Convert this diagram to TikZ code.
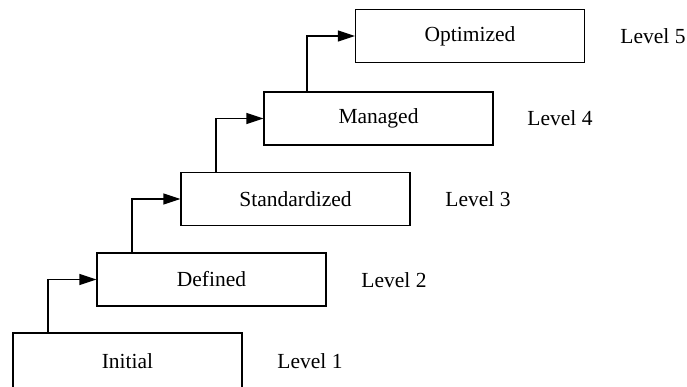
\documentclass[tikz,border=0pt]{standalone}
\usepackage{fontspec}
\setmainfont{Liberation Serif}
\usetikzlibrary{arrows.meta}
\begin{document}
\begin{tikzpicture}[x=1pt,y=-1pt,
  lvlbox/.style={draw=black, line width=1.3pt, minimum width=229pt, minimum height=53pt, inner sep=0pt, font=\fontsize{21.5}{26}\selectfont},
  lvltext/.style={font=\fontsize{21.5}{26}\selectfont, inner sep=0pt},
  conn/.style={line width=1.3pt, -{Triangle[length=17pt,width=11pt]}}]
\useasboundingbox (0,0) rectangle (687,386);
\node[lvlbox, minimum height=56pt] (b1) at (127.5,361) {Initial};
\node[lvlbox] (b2) at (211.5,279.5) {Defined};
\node[lvlbox] (b3) at (295.5,199) {Standardized};
\node[lvlbox] (b4) at (378.5,118.5) {Managed};
\node[lvlbox] (b5) at (470,36) {Optimized};
\node[lvltext] (l1) at (310,361) {Level 1};
\node[lvltext] (l2) at (394,280) {Level 2};
\node[lvltext] (l3) at (478,199) {Level 3};
\node[lvltext] (l4) at (560,118) {Level 4};
\node[lvltext] (l5) at (653,36) {Level 5};
\coordinate (s1) at (48,0);
\coordinate (s2) at (132,0);
\coordinate (s3) at (216,0);
\coordinate (s4) at (307,0);
\draw[conn] (s1 |- b1.north) |- (b2.west);
\draw[conn] (s2 |- b2.north) |- (b3.west);
\draw[conn] (s3 |- b3.north) |- (b4.west);
\draw[conn] (s4 |- b4.north) |- (b5.west);
\end{tikzpicture}
\end{document}
